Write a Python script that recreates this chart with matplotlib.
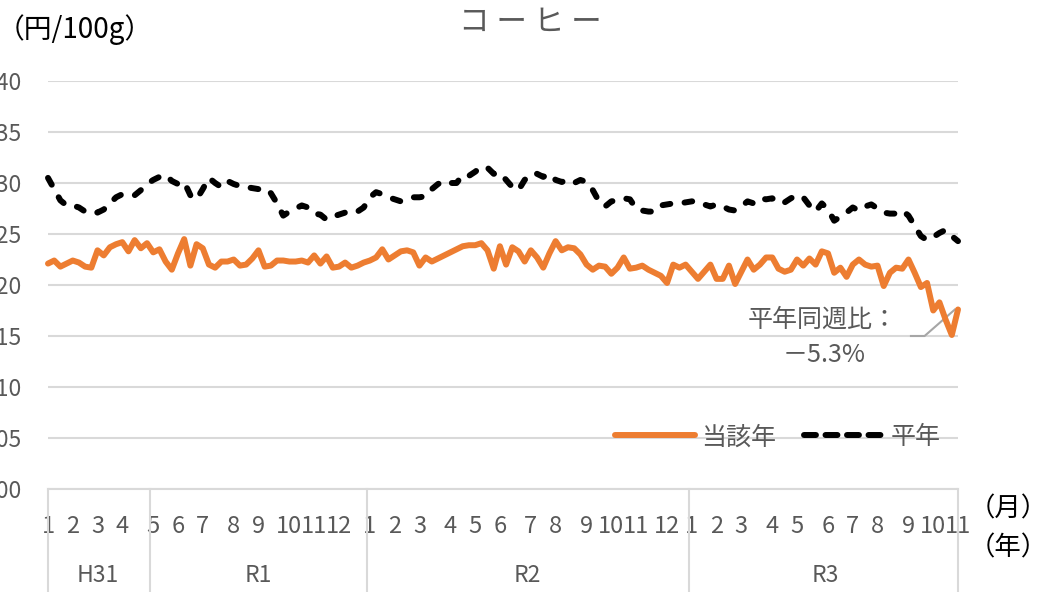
import matplotlib
matplotlib.use("Agg")
import matplotlib.pyplot as plt
import matplotlib.transforms as mtransforms
from matplotlib.lines import Line2D
import numpy as np
import pandas as pd

plt.rcParams['font.family'] = ['Noto Sans CJK JP', 'DejaVu Sans']

# weekly categories, first week of Jan 2019 (H31) to first week of Nov 2021 (R3)
weeks = pd.date_range("2019-01-07", periods=148, freq="7D")

# 当該年 (円/100g)
current = [
    122.1, 122.4, 121.8, 122.1, 122.4, 122.2, 121.8, 121.7, 123.4, 122.9,
    123.7, 124.0, 124.2, 123.3, 124.4, 123.6, 124.1, 123.2, 123.5, 122.3,
    121.5, 123.1, 124.5, 121.9, 124.0, 123.6, 122.0, 121.7, 122.3, 122.3,
    122.5, 121.9, 122.0, 122.6, 123.4, 121.8, 121.9, 122.4, 122.4, 122.3,
    122.3, 122.4, 122.2, 122.9, 122.1, 122.8, 121.7, 121.8, 122.2, 121.7,
    121.9, 122.2, 122.4, 122.7, 123.5, 122.5, 122.9, 123.3, 123.4, 123.2,
    121.9, 122.7, 122.3, 122.6, 122.9, 123.2, 123.5, 123.8, 123.9, 123.9,
    124.1, 123.4, 121.6, 123.8, 122.0, 123.7, 123.3, 122.3, 123.4, 122.7,
    121.7, 123.1, 124.3, 123.4, 123.7, 123.6, 123.0, 122.0, 121.5, 121.9,
    121.8, 121.1, 121.7, 122.7, 121.6, 121.7, 121.9, 121.5, 121.2, 120.9,
    120.2, 122.0, 121.7, 122.0, 121.3, 120.6, 121.3, 122.0, 120.6, 120.6,
    121.9, 120.1, 121.3, 122.5, 121.5, 122.0, 122.7, 122.7, 121.6, 121.3,
    121.5, 122.5, 121.9, 122.6, 122.0, 123.3, 123.1, 121.2, 121.7, 120.8,
    122.0, 122.5, 122.0, 121.8, 121.9, 119.9, 121.2, 121.7, 121.6, 122.5,
    121.2, 119.8, 120.2, 117.5, 118.3, 116.6, 115.1, 117.6,
]

# 平年 (円/100g)
normal = [
    130.5, 129.4, 128.3, 127.8, 127.8, 127.6, 127.2, 127.3, 127.1, 127.4,
    128.0, 128.6, 128.9, 128.9, 128.8, 129.3, 129.9, 130.3, 130.6, 130.8,
    130.2, 129.9, 130.1, 128.8, 128.4, 129.4, 130.5, 130.0, 129.6, 130.2,
    129.9, 129.7, 129.6, 129.5, 129.4, 129.5, 129.0, 128.0, 126.8, 127.2,
    127.5, 127.8, 127.6, 127.0, 126.9, 126.4, 126.7, 126.9, 127.1, 127.3,
    127.2, 127.6, 128.6, 129.1, 128.9, 128.6, 128.4, 128.2, 128.4, 128.6,
    128.6, 128.7, 129.4, 129.9, 130.2, 130.0, 130.0, 130.8, 130.7, 131.1,
    131.6, 131.5, 130.9, 131.0, 130.3, 129.6, 129.3, 130.3, 130.9, 130.9,
    130.6, 130.9, 130.3, 130.1, 130.3, 130.0, 130.3, 130.1, 129.3, 128.2,
    127.7, 128.2, 128.3, 128.5, 128.4, 127.5, 127.3, 127.2, 127.2, 127.8,
    127.9, 128.0, 128.0, 128.1, 128.2, 128.2, 127.9, 127.7, 127.9, 127.7,
    127.4, 127.3, 127.7, 128.2, 128.0, 128.5, 128.4, 128.5, 128.0, 128.1,
    128.5, 128.8, 128.6, 127.8, 127.2, 128.0, 127.4, 126.3, 126.7, 127.1,
    127.6, 127.3, 127.7, 127.9, 127.5, 127.1, 127.0, 127.0, 127.3, 126.8,
    125.8, 124.8, 124.4, 124.7, 125.1, 125.4, 124.8, 124.3,
]

yticks = [100, 105, 110, 115, 120, 125, 130, 135, 140]
eras = ["H31", "R1", "R2", "R3"]

ORANGE = "#ED7D31"
GRID = "#D9D9D9"
TXT = "#595959"
LW = 4.3
DASH = (0, (1.3, 2.4))

x = np.arange(len(weeks))

fig = plt.figure(figsize=(10.43, 5.92), dpi=100)
ax = fig.add_axes([48 / 1043, 1 - 489 / 592, 910 / 1043, 408 / 592])

ax.plot(x, normal, color="black", lw=LW, linestyle=DASH,
        dash_capstyle="round", dash_joinstyle="round", clip_on=False,
        zorder=3)
ax.plot(x, current, color=ORANGE, lw=LW, solid_capstyle="round",
        solid_joinstyle="round", clip_on=False, zorder=4)

ax.set_xlim(0, len(x) - 1)
ax.set_ylim(100, 140)
ax.set_yticks(yticks)
ax.set_yticklabels([str(v) for v in yticks])
ax.grid(axis="y", color=GRID, lw=1.5)
ax.set_axisbelow(True)
for s in ["top", "right", "left"]:
    ax.spines[s].set_visible(False)
ax.spines["bottom"].set_color(GRID)
ax.spines["bottom"].set_linewidth(1.5)
ax.tick_params(axis="y", length=0, pad=19, labelsize=16.5, labelcolor=TXT)

# month labels at first week of each month
month = weeks.month.values
mpos = [i for i in range(len(weeks)) if i == 0 or month[i] != month[i - 1]]
ax.set_xticks(mpos)
ax.set_xticklabels([str(month[i]) for i in mpos])
ax.tick_params(axis="x", length=0, pad=19, labelsize=17, labelcolor=TXT)

# era groups
era_of = []
for d in weeks:
    if d.year == 2019 and d.month <= 4:
        era_of.append("H31")
    elif d.year == 2019:
        era_of.append("R1")
    elif d.year == 2020:
        era_of.append("R2")
    else:
        era_of.append("R3")
era_of = np.array(era_of)
trans = mtransforms.blended_transform_factory(ax.transData, ax.transAxes)
bounds = [0]
for e in eras:
    idx = np.where(era_of == e)[0]
    lo, hi = idx[0], idx[-1]
    ax.text((lo + hi) / 2, -0.211, e, transform=trans, ha="center",
            va="center", fontsize=16.5, color=TXT)
    if e != eras[0]:
        bounds.append(lo - 0.5)
bounds.append(len(x) - 1)
for b in bounds:
    ax.plot([b, b], [0, -0.26], transform=trans, color=GRID, lw=1.5,
            clip_on=False)

# legend
handles = [Line2D([], [], color=ORANGE, lw=LW, solid_capstyle="round"),
           Line2D([], [], color="black", lw=LW, linestyle=(0, (2.0, 1.6)),
                  dash_capstyle="round")]
ax.legend(handles, ["当該年", "平年"], loc="center",
          bbox_to_anchor=(0.802, 0.127), ncol=2, frameon=False,
          fontsize=18, labelcolor=TXT, handlelength=3.2, handletextpad=0.25,
          columnspacing=1.1)

# annotation for latest week
last = len(x) - 1
ax.text(0.851, 0.414, "平年同週比：", transform=ax.transAxes, ha="center",
        va="center", fontsize=18, color=TXT)
ax.text(0.853, 0.328, "－5.3%", transform=ax.transAxes, ha="center",
        va="center", fontsize=18, color=TXT)
ax.plot([last - 7.6, last - 5.4, last - 0.5], [115.0, 115.0, current[-1]],
        color="#A6A6A6", lw=1.5, clip_on=False, zorder=2)

fig.text(0.508, 0.962, "コ ー ヒ ー", ha="center", va="center",
         fontsize=22, color=TXT)
fig.text(-0.003, 0.95, "（円/100g）", ha="left", va="center", fontsize=20,
         color="black")
fig.text(0.929, 0.140, "（月）", ha="left", va="center", fontsize=19,
         color="black")
fig.text(0.929, 0.074, "（年）", ha="left", va="center", fontsize=19,
         color="black")

fig.savefig("out.png", dpi=100)
